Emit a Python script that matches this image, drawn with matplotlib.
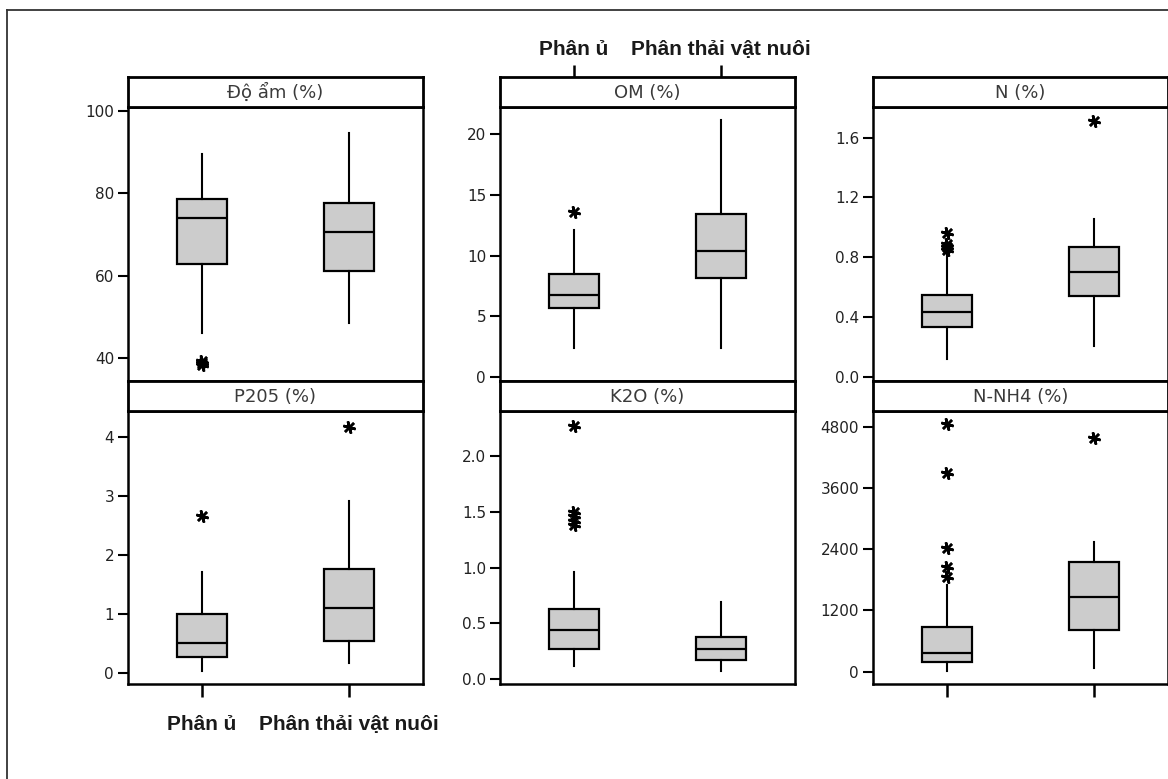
import matplotlib
matplotlib.use("Agg")
import matplotlib.pyplot as plt
from matplotlib.lines import Line2D

# ---------------- data ----------------
groups = ["Phân ủ", "Phân thải vật nuôi"]
titles = ["Độ ẩm (%)", "OM (%)", "N (%)", "P205 (%)", "K2O (%)", "N-NH4 (%)"]

# per panel: [Phân ủ, Phân thải vật nuôi]
whislo = [[46.1, 48.5], [2.4, 2.4], [0.12, 0.21], [0.04, 0.18], [0.12, 0.075], [20, 67]]
q1 = [[62.9, 61.2], [5.7, 8.17], [0.337, 0.543], [0.27, 0.55], [0.27, 0.17], [184, 818]]
med = [[74.1, 70.5], [6.77, 10.36], [0.437, 0.702], [0.51, 1.11], [0.44, 0.27], [360, 1470]]
q3 = [[78.7, 77.7], [8.5, 13.45], [0.546, 0.871], [1.0, 1.76], [0.63, 0.38], [874, 2157]]
whishi = [[89.6, 94.6], [12.1, 21.1], [0.827, 1.054], [1.71, 2.92], [0.96, 0.69], [1704, 2537]]
fliers = [
    [[38.3, 38.8, 39.2], []],
    [[13.6], []],
    [[0.85, 0.87, 0.89, 0.96], [1.71]],
    [[2.67], [4.18]],
    [[2.27, 1.38, 1.42, 1.46, 1.50], []],
    [[4850, 3900, 2420, 2050, 1850], [4580]],
]
yticks = [
    [40, 60, 80, 100],
    [0, 5, 10, 15, 20],
    [0.0, 0.4, 0.8, 1.2, 1.6],
    [0, 1, 2, 3, 4],
    [0.0, 0.5, 1.0, 1.5, 2.0],
    [0, 1200, 2400, 3600, 4800],
]
ytick_labels = [
    ["40", "60", "80", "100"],
    ["0", "5", "10", "15", "20"],
    ["0.0", "0.4", "0.8", "1.2", "1.6"],
    ["0", "1", "2", "3", "4"],
    ["0.0", "0.5", "1.0", "1.5", "2.0"],
    ["0", "1200", "2400", "3600", "4800"],
]
ylims = [(34.4, 101.0), (-0.30, 22.2), (-0.027, 1.805),
         (-0.186, 4.446), (-0.045, 2.404), (-247, 5108)]

# ---------------- layout (pixels) ----------------
W, H = 1168, 779
fig = plt.figure(figsize=(W / 100, H / 100), dpi=100)
fig.patch.set_facecolor("white")

col_left = [128, 500, 873]
col_w = 295
rows = [  # (strip_top, axes_top, axes_bottom)
    (77, 107, 381),
    (381, 411, 684.3),
]

def fx(px):
    return px / W

def fy(py):
    return 1 - py / H

# outer frame (top and left lines only visible)
fig.add_artist(Line2D([fx(7), fx(7)], [fy(10), 0], color="#333333", lw=1.3,
                      transform=fig.transFigure))
fig.add_artist(Line2D([fx(7), 1], [fy(10), fy(10)], color="#333333", lw=1.3,
                      transform=fig.transFigure))

tick_font = dict(family="DejaVu Sans", size=11, color="#222222")
label_font = dict(family="Liberation Sans", weight="bold", size=15, color="#1a1a1a")

for i in range(6):
    r, c = divmod(i, 3)
    st, at, ab = rows[r]
    left = col_left[c]
    ax = fig.add_axes([fx(left), fy(ab), col_w / W, (ab - at) / H])
    sax = fig.add_axes([fx(left), fy(at), col_w / W, (at - st) / H])

    stats = []
    for g in range(2):
        stats.append(dict(whislo=whislo[i][g], q1=q1[i][g], med=med[i][g],
                          q3=q3[i][g], whishi=whishi[i][g], fliers=fliers[i][g]))
    ax.bxp(stats, positions=[1, 2], widths=0.34, showcaps=False, patch_artist=True,
           boxprops=dict(facecolor="#cccccc", edgecolor="black", linewidth=1.6),
           medianprops=dict(color="black", linewidth=1.6),
           whiskerprops=dict(color="black", linewidth=1.5),
           flierprops=dict(marker=(6, 2, 15), markersize=9, markeredgecolor="black",
                           markeredgewidth=1.8, markerfacecolor="black", linestyle="none"))
    ax.set_xlim(0.5, 2.5)
    ax.set_ylim(*ylims[i])
    ax.set_yticks(yticks[i])
    ax.set_yticklabels(ytick_labels[i], fontdict=tick_font)
    ax.tick_params(axis="y", direction="out", length=7, width=1.5, pad=3,
                   colors="black", labelcolor="#222222")
    for s in ax.spines.values():
        s.set_linewidth(1.8)
        s.set_color("black")

    if i == 3:
        ax.set_xticks([1, 2])
        ax.set_xticklabels(groups, fontdict=label_font)
        ax.tick_params(axis="x", direction="out", length=9, width=1.8, pad=13)
    elif i == 5:
        ax.set_xticks([1, 2])
        ax.set_xticklabels(["", ""])
        ax.tick_params(axis="x", direction="out", length=9, width=1.8)
    else:
        ax.set_xticks([])

    # strip
    sax.set_xlim(0.5, 2.5)
    sax.set_ylim(0, 1)
    sax.set_yticks([])
    for s in sax.spines.values():
        s.set_linewidth(2.0)
        s.set_color("black")
    sax.text(1.5, 0.48, titles[i], ha="center", va="center",
             family="DejaVu Sans", size=13, color="#3a3a3a")
    if i == 1:
        sax.xaxis.tick_top()
        sax.set_xticks([1, 2])
        sax.set_xticklabels(groups, fontdict=label_font)
        sax.tick_params(axis="x", direction="out", length=9, width=1.8, pad=4)
    else:
        sax.set_xticks([])

fig.savefig("out.png", dpi=100, facecolor="white")
